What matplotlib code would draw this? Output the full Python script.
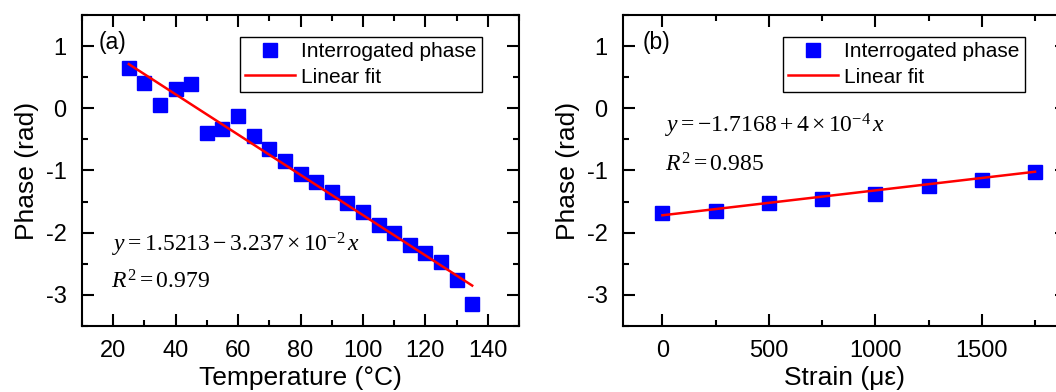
import numpy as np
import matplotlib
matplotlib.use('Agg')
import matplotlib.pyplot as plt
from matplotlib.ticker import MultipleLocator

plt.rcParams['font.family'] = ['Liberation Sans', 'DejaVu Sans']
plt.rcParams['axes.unicode_minus'] = False
plt.rcParams['mathtext.fontset'] = 'custom'
plt.rcParams['mathtext.rm'] = 'Liberation Serif'
plt.rcParams['mathtext.it'] = 'Liberation Serif:italic'

# (a) temperature sweep
temp = [25, 30, 35, 40, 45, 50, 55, 60, 65, 70, 75, 80, 85, 90, 95, 100,
        105, 110, 115, 120, 125, 130, 135]
phase_t = [0.64, 0.41, 0.05, 0.31, 0.39, -0.39, -0.33, -0.13, -0.44, -0.66,
           -0.84, -1.06, -1.19, -1.35, -1.53, -1.67, -1.88, -2.00, -2.19,
           -2.32, -2.47, -2.76, -3.14]
fit_t_x = [25, 135]
fit_t_y = [0.71, -2.85]

# (b) strain sweep
strain = [0, 250, 500, 750, 1000, 1250, 1500, 1750]
phase_s = [-1.68, -1.65, -1.52, -1.46, -1.37, -1.25, -1.16, -1.03]
fit_s_x = [0, 1750]
fit_s_y = [-1.72, -1.02]

fig = plt.figure(figsize=(10.56, 3.92), dpi=100)
ax1 = fig.add_axes([82 / 1056, 66 / 392, 437 / 1056, 311 / 392])
ax2 = fig.add_axes([623 / 1056, 66 / 392, 444 / 1056, 311 / 392])


def style(ax):
    for s in ax.spines.values():
        s.set_linewidth(1.5)
    ax.tick_params(which='both', direction='in', top=True, right=True,
                   width=1.5, labelsize=17)
    ax.tick_params(which='major', length=8.6)
    ax.tick_params(which='minor', length=4.3)
    ax.tick_params(axis='x', pad=10)
    ax.tick_params(axis='y', pad=11)
    ax.set_ylim(-3.5, 1.5)
    ax.yaxis.set_major_locator(MultipleLocator(1))
    ax.yaxis.set_minor_locator(MultipleLocator(0.5))
    ax.set_ylabel('Phase (rad)', fontsize=19, labelpad=5)


for ax, x, y, fx, fy in [(ax1, temp, phase_t, fit_t_x, fit_t_y),
                         (ax2, strain, phase_s, fit_s_x, fit_s_y)]:
    ax.plot(x, y, 's', color='#0000ff', markersize=9.5, linestyle='none',
            label='Interrogated phase')
    ax.plot(fx, fy, color='#ff0000', linewidth=1.8, label='Linear fit')
    style(ax)

ax1.set_xlim(10, 150)
ax1.xaxis.set_major_locator(MultipleLocator(20))
ax1.xaxis.set_minor_locator(MultipleLocator(10))
ax1.set_xlabel('Temperature (°C)', fontsize=19, labelpad=3)

ax2.set_xlim(-185, 1900)
ax2.xaxis.set_major_locator(MultipleLocator(500))
ax2.xaxis.set_minor_locator(MultipleLocator(250))
ax2.set_xlabel('Strain (με)', fontsize=19, labelpad=3)

leg_kw = dict(fontsize=15, handlelength=2.4, handletextpad=0.3, borderpad=0.25,
              labelspacing=0.3, borderaxespad=0, fancybox=False,
              edgecolor='black', framealpha=1, loc='upper right')
l1 = ax1.legend(bbox_to_anchor=(0.915, 0.929), **leg_kw)
l2 = ax2.legend(bbox_to_anchor=(0.905, 0.929), **leg_kw)
for l in (l1, l2):
    l.get_frame().set_linewidth(1.0)

ax1.text(0.037, 0.91, '(a)', transform=ax1.transAxes, fontsize=16.5, va='center')
ax2.text(0.045, 0.91, '(b)', transform=ax2.transAxes, fontsize=16.5, va='center')

ax1.text(0.069, 0.26, r'$y = 1.5213 - 3.237\times10^{-2}\,x$',
         transform=ax1.transAxes, fontsize=17, va='center')
ax1.text(0.066, 0.142, r'$R^2 = 0.979$', transform=ax1.transAxes,
         fontsize=17, va='center')
ax2.text(0.095, 0.643, r'$y = -1.7168 + 4\times10^{-4}\,x$',
         transform=ax2.transAxes, fontsize=17, va='center')
ax2.text(0.095, 0.518, r'$R^2 = 0.985$', transform=ax2.transAxes,
         fontsize=17, va='center')

fig.savefig('out.png', dpi=100)
